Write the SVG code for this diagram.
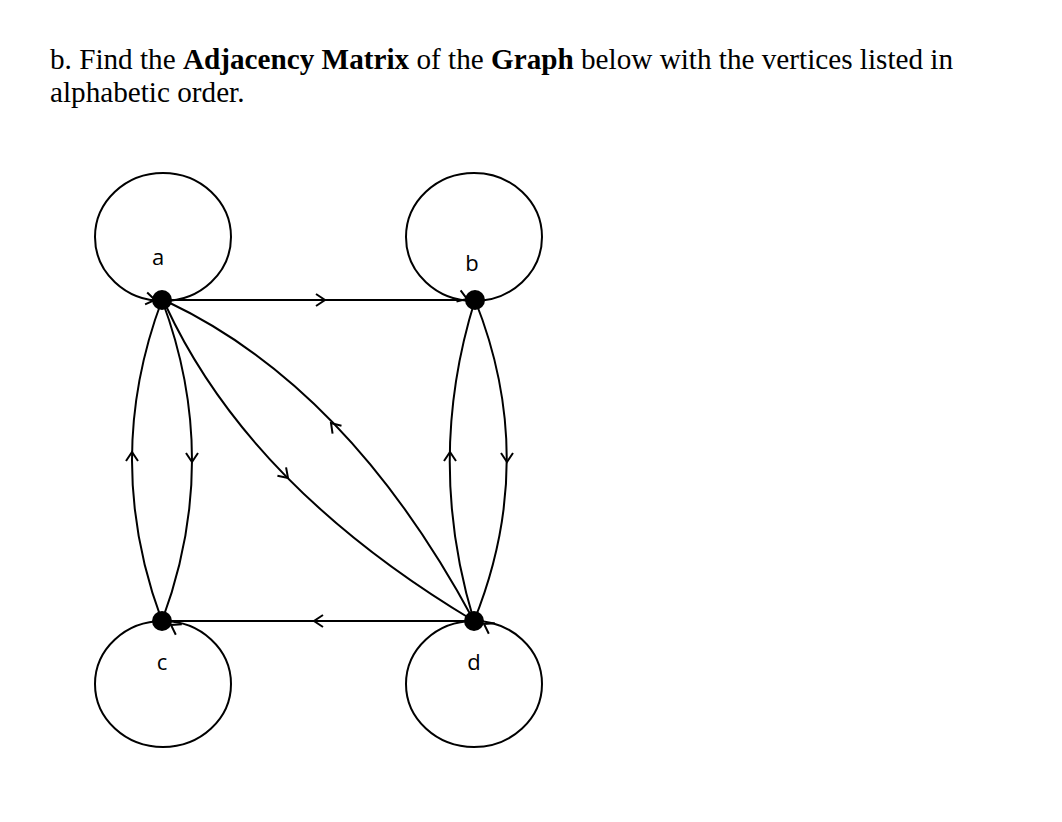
<svg xmlns="http://www.w3.org/2000/svg" xmlns:xlink="http://www.w3.org/1999/xlink" width="1062" height="822" viewBox="0 0 1062 822">
<style>
.e{fill:none;stroke:#000;stroke-width:2}
.h{font-family:"Liberation Serif",serif;font-size:29.2px}
.l{font-family:"Open Sans","Liberation Sans",sans-serif;font-size:22px;text-anchor:middle}
</style>
<defs><path id="ch" d="M-9,-6 L0,0 L-9,6" fill="none" stroke="#000" stroke-width="2"/></defs>
<rect width="1062" height="822" fill="#fff"/>
<text class="h" x="50" y="69">b. Find the <tspan font-weight="bold">Adjacency Matrix</tspan> of the <tspan font-weight="bold">Graph</tspan> below with the vertices listed in</text>
<text class="h" x="50" y="102">alphabetic order.</text>
<g id="connectors">
<ellipse class="e" cx="163" cy="237" rx="68" ry="64"/>
<ellipse class="e" cx="474" cy="237" rx="68" ry="64"/>
<ellipse class="e" cx="163" cy="684" rx="68" ry="63"/>
<ellipse class="e" cx="474" cy="684" rx="68" ry="63"/>
<line class="e" x1="162" y1="300" x2="475" y2="300"/>
<line class="e" x1="474" y1="621" x2="162" y2="621"/>
<path class="e" d="M162,300 Q102,460 162,621"/>
<path class="e" d="M162,300 Q222,460 162,621"/>
<path class="e" d="M475,300 Q425,460 474,621"/>
<path class="e" d="M475,300 Q539,460 474,621"/>
<path class="e" d="M166,306 Q250,487 474,621"/>
<path class="e" d="M168,302 Q349,388 474,621"/>
<use href="#ch" transform="translate(325,300)"/>
<use href="#ch" transform="translate(314,621) rotate(180)"/>
<use href="#ch" transform="translate(132,452) rotate(-90)"/>
<use href="#ch" transform="translate(192,462) rotate(90)"/>
<use href="#ch" transform="translate(450,452) rotate(-90)"/>
<use href="#ch" transform="translate(507,462) rotate(90)"/>
<use href="#ch" transform="translate(288,478) rotate(46)"/>
<use href="#ch" transform="translate(331,423) rotate(-132)"/>
<use href="#ch" transform="translate(155,300) rotate(10)"/>
<use href="#ch" transform="translate(467,299) rotate(20)"/>
<use href="#ch" transform="translate(171,625) rotate(-150)"/>
<use href="#ch" transform="translate(484,624) rotate(-150)"/>
</g>
<g id="a"><circle cx="162" cy="300" r="10"/><text class="l" x="158" y="265">a</text></g>
<g id="b"><circle cx="475" cy="300" r="10"/><text class="l" x="472" y="271">b</text></g>
<g id="c"><circle cx="162" cy="621" r="10"/><text class="l" x="162" y="670">c</text></g>
<g id="d"><circle cx="474" cy="621" r="10"/><text class="l" x="474" y="670">d</text></g>
</svg>
